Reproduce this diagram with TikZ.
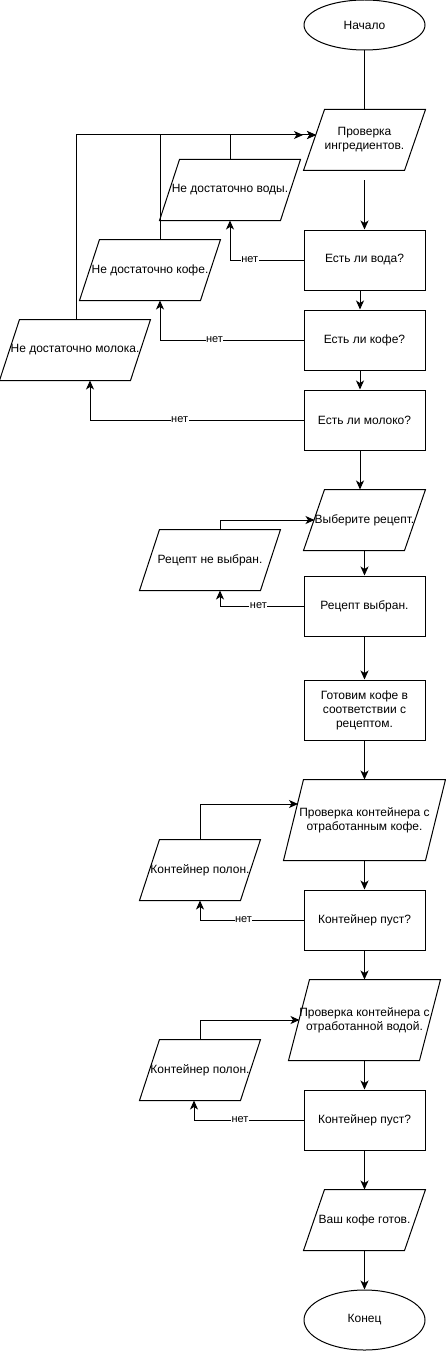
\documentclass[tikz,border=0pt]{standalone}
\usepackage{fontspec}
\setmainfont{Liberation Sans}
\usetikzlibrary{arrows.meta,shapes.geometric}
\tikzset{
  base/.style={font=\fontsize{12}{14}\selectfont, align=center, inner sep=0pt, line width=1pt},
  term/.style={base, draw, ellipse, minimum width=121pt},
  proc/.style={base, draw, rectangle, minimum width=121pt, minimum height=60pt},
  pio/.style={base, rectangle, minimum height=60pt},
  ln/.style={line width=1pt},
  arr/.style={line width=1pt, -{Stealth[length=9pt,width=8pt,inset=2.5pt]}},
  lbl/.style={font=\fontsize{11}{13}\selectfont, fill=white, inner sep=0.5pt}
}
\newcommand\paraoutline[2]{\draw[ln] ([xshift=#2]#1.north west) -- (#1.north east) -- ([xshift=-#2]#1.south east) -- (#1.south west) -- cycle;}
\begin{document}
\begin{tikzpicture}[x=1pt,y=-1pt]
\useasboundingbox (0,0) rectangle (445,1351);
% main column
\node[term, minimum height=50pt] (start) at (364.5,25) {Начало};
\node[pio, minimum width=121pt] (p1) at (364.5,140) {Проверка\\ингредиентов.};
\paraoutline{p1}{21pt}
\node[proc] (q1) at (364.5,260) {Есть ли вода?};
\node[proc] (q2) at (364.5,340) {Есть ли кофе?};
\node[proc] (q3) at (364.5,420) {Есть ли молоко?};
\node[pio, minimum width=121pt] (p2) at (364.5,520) {Выберите рецепт.};
\paraoutline{p2}{21pt}
\node[proc] (q4) at (364.5,606) {Рецепт выбран.};
\node[proc] (a1) at (364.5,710) {Готовим кофе в\\соответствии с\\рецептом.};
\node[pio, minimum width=161pt, minimum height=80pt] (p3) at (364.5,820) {Проверка контейнера с\\отработанным кофе.};
\paraoutline{p3}{20pt}
\node[proc] (q5) at (364.5,920) {Контейнер пуст?};
\node[pio, minimum width=151pt, minimum height=80pt] (p4) at (364.5,1020) {Проверка контейнера с\\отработанной водой.};
\paraoutline{p4}{21pt}
\node[proc] (q6) at (364.5,1120) {Контейнер пуст?};
\node[pio, minimum width=121pt] (p5) at (364.5,1220) {Ваш кофе готов.};
\paraoutline{p5}{21pt}
\node[term, minimum height=60pt] (end) at (364.5,1320) {Конец};
% side nodes
\node[pio, minimum width=140pt] (e1) at (230,190) {Не достаточно воды.};
\paraoutline{e1}{20pt}
\node[pio, minimum width=140pt] (e2) at (150,270) {Не достаточно кофе.};
\paraoutline{e2}{20pt}
\node[pio, minimum width=150pt] (e3) at (75,350) {Не достаточно молока.};
\paraoutline{e3}{20pt}
\node[pio, minimum width=140pt] (e4) at (210,560) {Рецепт не выбран.};
\paraoutline{e4}{20pt}
\node[pio, minimum width=120pt] (e5) at (200,870) {Контейнер полон.};
\paraoutline{e5}{20pt}
\node[pio, minimum width=120pt] (e6) at (200,1070) {Контейнер полон.};
\paraoutline{e6}{20pt}
% entry points on slanted edges
\coordinate (p1in) at (316,135);
\coordinate (p1in2) at (303,135);
\coordinate (p2in) at (314.5,520);
\coordinate (p3in) at (298,804);
\coordinate (p4in) at (299.5,1020);
% main flow
\draw[ln] (start.south) -- (p1.north);
\draw[arr] ([yshift=-10pt]p1.south) -- (q1.north);
\draw[arr] ([xshift=-4.5pt]q1.south) -- ([xshift=-4.5pt]q2.north);
\draw[arr] ([xshift=-4.5pt]q2.south) -- ([xshift=-4.5pt]q3.north);
\draw[arr] ([xshift=-4.5pt]q3.south) -- ([xshift=-4.5pt]p2.north);
\draw[arr] (p2.south) -- (q4.north);
\draw[arr] (q4.south) -- (a1.north);
\draw[arr] (a1.south) -- (p3.north);
\draw[arr] (p3.south) -- (q5.north);
\draw[arr] (q5.south) -- (p4.north);
\draw[arr] (p4.south) -- (q6.north);
\draw[arr] (q6.south) -- (p5.north);
\draw[arr] (p5.south) -- (end.north);
% "no" branches
\draw[arr] (q1.west) -| (e1.south) node[lbl, pos=0.365] {нет};
\draw[arr] (q2.west) -| ([xshift=10pt]e2.south) node[lbl, pos=0.31] {нет};
\draw[arr] (q3.west) -| ([xshift=15pt]e3.south) node[lbl, pos=0.29] {нет};
\draw[arr] (q4.west) -| ([xshift=10pt]e4.south) node[lbl, pos=0.27] {нет};
\draw[arr] (q5.west) -| (e5.south) node[lbl, pos=0.29] {нет};
\draw[arr] (q6.west) -| ([xshift=-6pt]e6.south) node[lbl, pos=0.29] {нет};
% loop backs
\draw[arr] (e1.north) |- (p1in);
\draw[arr] ([xshift=10pt]e2.north) |- (p1in2);
\draw[arr] ([xshift=1pt]e3.north) |- (p1in);
\draw[arr] ([xshift=10pt]e4.north) |- (p2in);
\draw[arr] (e5.north) |- (p3in);
\draw[arr] (e6.north) |- (p4in);
\end{tikzpicture}
\end{document}
